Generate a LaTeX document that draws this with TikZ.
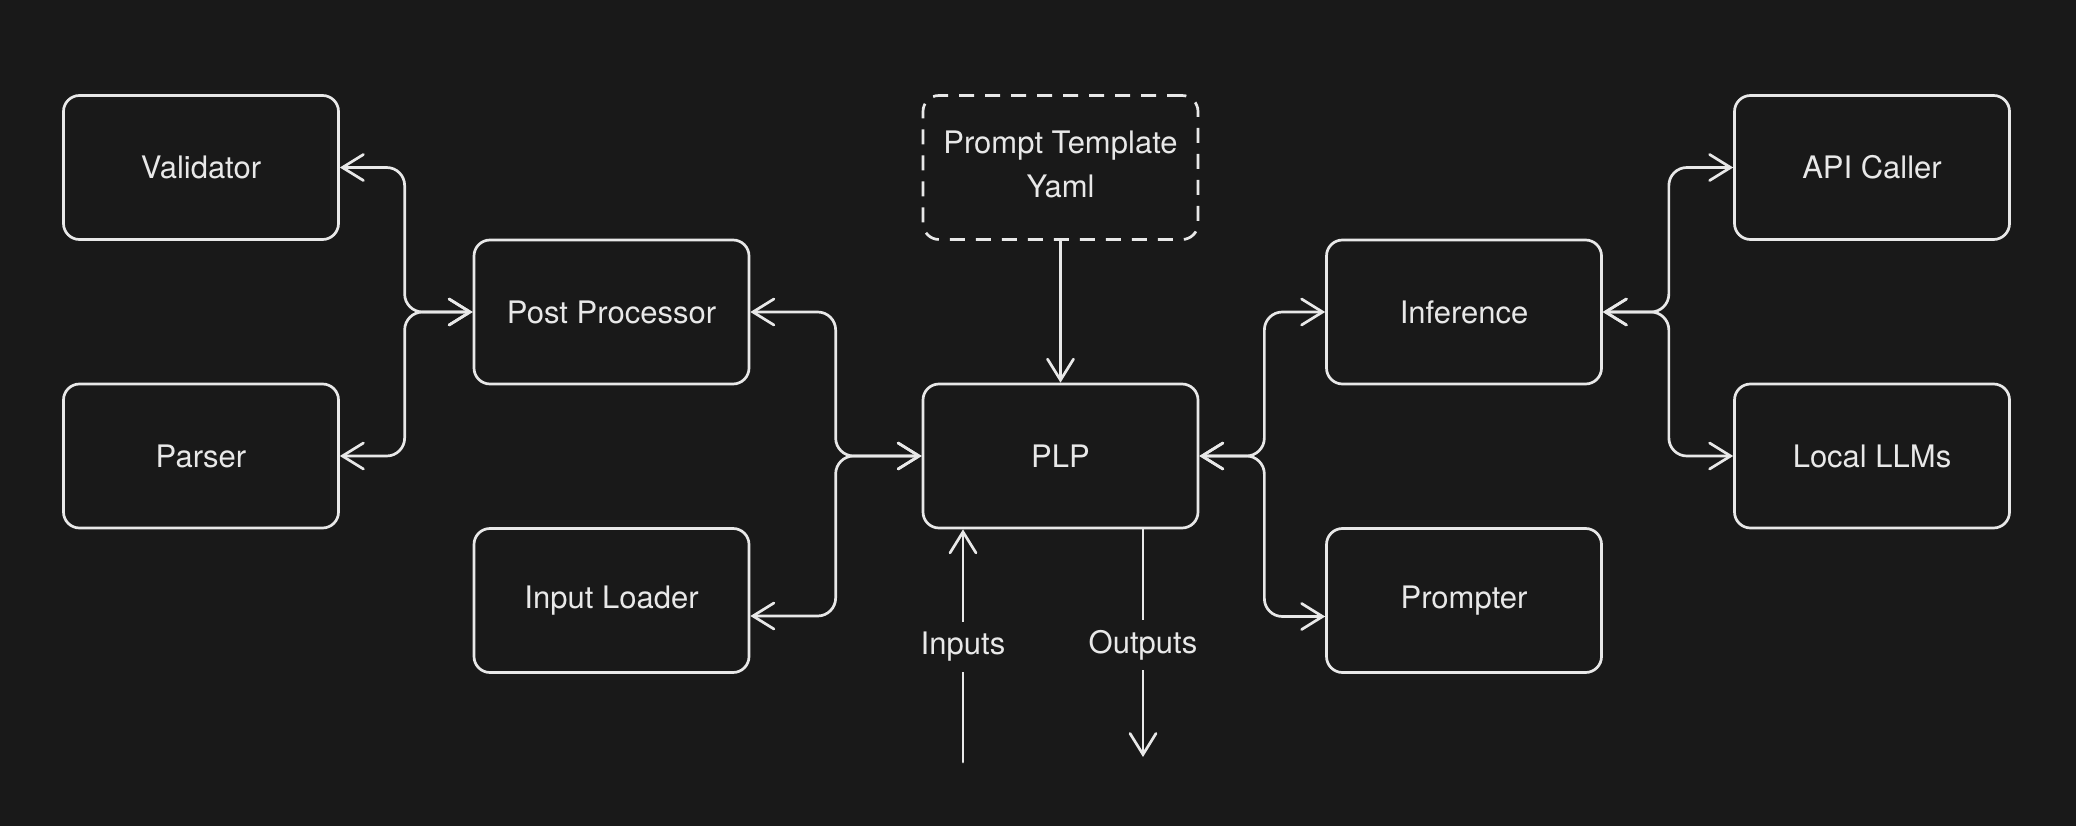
\documentclass[tikz,border=0pt]{standalone}
\usepackage{fontspec}
\setmainfont{TeX Gyre Heros}
\usetikzlibrary{arrows.meta}
\definecolor{bg}{RGB}{25,25,25}
\definecolor{fg}{RGB}{232,232,232}
\begin{document}
\begin{tikzpicture}[x=1pt,y=-1pt,
  box/.style={draw=fg, line width=2.7pt, rounded corners=16pt, minimum width=275pt, minimum height=144pt, text=fg, font=\fontsize{31}{44}\selectfont, align=center, inner sep=0pt},
  dbox/.style={box, dash pattern=on 15pt off 11pt},
  conn/.style={draw=fg, line width=2.7pt, line cap=round, rounded corners=18pt},
  barb/.tip={Straight Barb[length=21pt,width=26pt,line cap=round]},
  lbl/.style={text=fg, font=\fontsize{31}{36}\selectfont, fill=bg, inner xsep=3pt, inner ysep=10pt}
]
\fill[bg] (0,0) rectangle (2076,826);
\useasboundingbox (0,0) rectangle (2076,826);

\node[box] (val) at (201,167.5) {Validator};
\node[box] (par) at (201,456) {Parser};
\node[box] (pp) at (611.5,312) {Post Processor};
\node[box] (il) at (611.5,600.5) {Input Loader};
\node[dbox] (pt) at (1060.5,167.5) {Prompt Template\\Yaml\rule[-6pt]{0pt}{1pt}};
\node[box] (plp) at (1060.5,456) {PLP};
\node[box] (inf) at (1464,312) {Inference};
\node[box] (prm) at (1464,600.5) {Prompter};
\node[box] (api) at (1872,167.5) {API Caller};
\node[box] (llm) at (1872,456) {Local LLMs};

\draw[conn, barb-barb] (val.east) -| ([xshift=-68pt]pp.west) -- (pp.west);
\draw[conn, barb-barb] (par.east) -| ([xshift=-68pt]pp.west) -- (pp.west);
\draw[conn, barb-barb] (pp.east) -| ([xshift=-86pt]plp.west) -- (plp.west);
\draw[conn, barb-barb] ([yshift=-15.5pt]il.east) -| ([xshift=-86pt]plp.west) -- (plp.west);
\draw[conn, barb-barb] (plp.east) -- ([xshift=65pt]plp.east) |- (inf.west);
\draw[conn, barb-barb] (plp.east) -- ([xshift=65pt]plp.east) |- ([yshift=-16pt]prm.west);
\draw[conn, barb-barb] (inf.east) -- ([xshift=66pt]inf.east) |- (api.west);
\draw[conn, barb-barb] (inf.east) -- ([xshift=66pt]inf.east) |- (llm.west);
\draw[conn, -barb] (pt.south) -- (plp.north);

\coordinate (inB) at (963,762);
\coordinate (outB) at (1143,757);
\draw[conn, -barb] (inB) -- (inB |- plp.south);
\draw[conn, -barb] (outB |- plp.south) -- (outB);
\node[lbl] (inL) at (963,647) {Inputs};
\node[lbl] (outL) at (1143,645) {Outputs};
\end{tikzpicture}
\end{document}
